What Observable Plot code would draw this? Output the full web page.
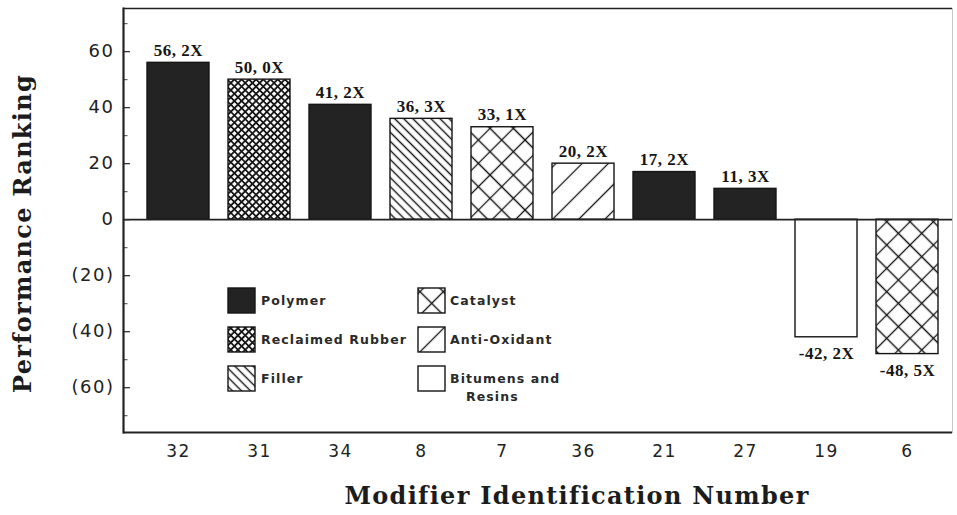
<!DOCTYPE html>
<html>
<head>
<meta charset="utf-8">
<script src="https://cdn.jsdelivr.net/npm/d3@7"></script>
<script src="https://cdn.jsdelivr.net/npm/@observablehq/plot@0.6"></script>
<style>
  body { margin: 0; background: #fff; }
  #chart { position: absolute; left: 0; top: 0; }
  [aria-label="y-axis tick label"] text, [aria-label="x-axis tick label"] text { letter-spacing: 1.5px; }
  .big-label text { letter-spacing: 1.3px; }
  .bar-label text { letter-spacing: 0.5px; }
</style>
</head>
<body>
<div id="chart"></div>
<script>
// ---- data ----
const modifiers = ["32", "31", "34", "8", "7", "36", "21", "27", "19", "6"];
const rankings = [56, 50, 41, 36, 33, 20, 17, 11, -42, -48];
const multipliers = ["2X", "0X", "2X", "3X", "1X", "2X", "2X", "3X", "2X", "5X"];
const categories = ["Polymer", "Reclaimed Rubber", "Polymer", "Filler", "Catalyst",
  "Anti-Oxidant", "Polymer", "Polymer", "Bitumens and Resins", "Catalyst"];
const legendCategories = ["Polymer", "Reclaimed Rubber", "Filler", "Catalyst", "Anti-Oxidant", "Bitumens and Resins"];
const legendLines = [["Polymer"], ["Reclaimed Rubber"], ["Filler"], ["Catalyst"], ["Anti-Oxidant"], ["Bitumens and", "Resins"]];
const majorTicks = [-60, -40, -20, 0, 20, 40, 60];
const minorTicks = [-70, -50, -30, -10, 10, 30, 50, 70];
const xTitle = "Modifier Identification Number";
const yTitle = "Performance Ranking";

// ---- styles ----
const fills = {
  "Polymer": "#232323",
  "Reclaimed Rubber": "url(#p-rubber)",
  "Filler": "url(#p-filler)",
  "Catalyst": "url(#p-catalyst)",
  "Anti-Oxidant": "url(#p-anti)",
  "Bitumens and Resins": "#ffffff"
};

const rows = modifiers.map((m, i) => ({
  modifier: m,
  ranking: rankings[i],
  label: `${rankings[i]}, ${multipliers[i]}`,
  category: categories[i]
}));

const labelFont = "Liberation Serif";
const tickFont = "DejaVu Sans";
const titleFont = "DejaVu Serif";

const chart = Plot.plot({
  width: 957,
  height: 515,
  marginLeft: 123,
  marginRight: 5,
  marginTop: 8,
  marginBottom: 83,
  style: { background: "white", color: "#222", overflow: "visible" },
  x: { domain: modifiers, paddingInner: 0.23, paddingOuter: 0.115, insetLeft: 11, label: null },
  y: { domain: [-76, 75.4], label: null },
  color: { type: "identity" },
  marks: [
    Plot.frame({ stroke: "#c8c8c8", strokeWidth: 1 }),
    Plot.barY(rows, { x: "modifier", y: "ranking", fill: d => fills[d.category], stroke: "#151515", strokeWidth: 1.4 }),
    Plot.ruleY([0], { stroke: "#222", strokeWidth: 1.6 }),
    Plot.text(rows.filter(d => d.ranking >= 0), {
      x: "modifier", y: "ranking", text: "label", dy: -7, lineAnchor: "bottom",
      fontFamily: labelFont, fontWeight: "bold", fontSize: 17, fill: "#161616", className: "bar-label"
    }),
    Plot.text(rows.filter(d => d.ranking < 0), {
      x: "modifier", y: "ranking", text: "label", dy: 10, lineAnchor: "top",
      fontFamily: labelFont, fontWeight: "bold", fontSize: 17, fill: "#161616", className: "bar-label"
    }),
    Plot.axisX({ tickSize: 0, tickPadding: 12, fontSize: 17, fontFamily: tickFont, label: null, fill: "#222" }),
    Plot.axisY(majorTicks, { tickSize: -7, tickFormat: () => "", label: null, stroke: "#333", strokeWidth: 1.3 }),
    Plot.axisY(minorTicks, { tickSize: -4.5, tickFormat: () => "", label: null, stroke: "#555", strokeWidth: 1.1 }),
    Plot.axisY(majorTicks, {
      tickSize: 0, tickPadding: 9, label: null, fontSize: 18, fontFamily: tickFont, fill: "#222",
      tickFormat: d => d < 0 ? `(${-d})` : `${d}`
    }),
    Plot.ruleY([75.4], { stroke: "#222", strokeWidth: 1.5 }),
    Plot.ruleY([-76], { stroke: "#222", strokeWidth: 2.2 }),
    Plot.frame({ anchor: "left", stroke: "#222", strokeWidth: 2.2 }),
    Plot.text([xTitle], {
      frameAnchor: "bottom", dx: 39, dy: 64, lineAnchor: "middle", textAnchor: "middle",
      fontFamily: titleFont, fontWeight: "bold", fontSize: 24, fill: "#1c1c1c", className: "big-label"
    }),
    Plot.text([yTitle], {
      frameAnchor: "left", dx: -100, dy: 13, rotate: -90, lineAnchor: "middle", textAnchor: "middle",
      fontFamily: titleFont, fontWeight: "bold", fontSize: 24, fill: "#1c1c1c", className: "big-label"
    })
  ]
});

// pattern definitions
const svg = d3.select(chart);
const defs = svg.insert("defs", ":first-child");
function hatch(id, size, angle, both, sw) {
  const p = defs.append("pattern")
    .attr("id", id).attr("patternUnits", "userSpaceOnUse")
    .attr("width", size).attr("height", size)
    .attr("patternTransform", `rotate(${angle})`);
  p.append("rect").attr("width", size).attr("height", size).attr("fill", "#fff");
  p.append("path")
    .attr("d", both ? `M0,${size / 2}H${size}M${size / 2},0V${size}` : `M0,${size / 2}H${size}`)
    .attr("stroke", "#151515").attr("stroke-width", sw).attr("fill", "none");
}
hatch("p-rubber", 5.1, 45, true, 1.9);
hatch("p-catalyst", 16.5, 45, true, 1.3);
hatch("p-filler", 6.4, 45, false, 1.4);
hatch("p-anti", 18.5, -45, false, 1.3);

// legend (built from the legend arrays)
const legendOrigin = [228, 288];
const colStep = 190, rowStep = 39, sw = 27, sh = 25;
const lg = svg.append("g").attr("class", "legend").attr("text-anchor", "start");
legendCategories.forEach((c, i) => {
  const col = Math.floor(i / 3), row = i % 3;
  const x0 = legendOrigin[0] + col * colStep;
  const y0 = legendOrigin[1] + row * rowStep;
  lg.append("rect").attr("x", x0).attr("y", y0).attr("width", sw).attr("height", sh)
    .attr("fill", fills[c]).attr("stroke", "#151515").attr("stroke-width", 1.4);
  const lines = legendLines[i];
  lines.forEach((t, j) => {
    lg.append("text")
      .attr("x", x0 + sw + (col ? 5 : 6) + (j > 0 ? 16 : 0))
      .attr("y", y0 + sh / 2 + j * 18)
      .attr("dy", "0.36em")
      .attr("text-anchor", "start")
      .attr("font-family", "DejaVu Sans").attr("font-weight", "bold").attr("font-size", 12.5)
      .attr("letter-spacing", "1.1px")
      .attr("fill", "#2a2a2a")
      .text(t);
  });
});

document.getElementById("chart").append(chart);
</script>
</body>
</html>
